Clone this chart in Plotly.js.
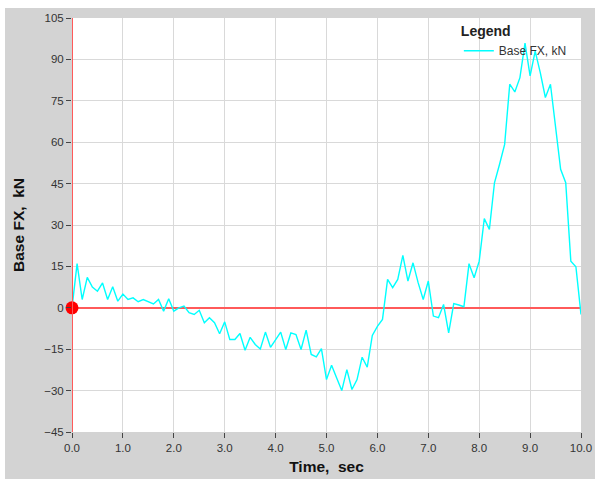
<!DOCTYPE html>
<html>
<head>
<meta charset="utf-8">
<script src="https://cdn.plot.ly/plotly-3.0.1.min.js"></script>
<style>
html,body{margin:0;padding:0;background:#ffffff;}
#chart{position:absolute;left:5px;top:8px;width:590px;height:471px;}
</style>
</head>
<body>
<div id="chart"></div>
<script>
const seriesName = "Base FX, kN";
const timeSec = [0.0,0.1,0.2,0.3,0.4,0.5,0.6,0.7,0.8,0.9,
  1.0,1.1,1.2,1.3,1.4,1.5,1.6,1.7,1.8,1.9,
  2.0,2.1,2.2,2.3,2.4,2.5,2.6,2.7,2.8,2.9,
  3.0,3.1,3.2,3.3,3.4,3.5,3.6,3.7,3.8,3.9,
  4.0,4.1,4.2,4.3,4.4,4.5,4.6,4.7,4.8,4.9,
  5.0,5.1,5.2,5.3,5.4,5.5,5.6,5.7,5.8,5.9,
  6.0,6.1,6.2,6.3,6.4,6.5,6.6,6.7,6.8,6.9,
  7.0,7.1,7.2,7.3,7.4,7.5,7.6,7.7,7.8,7.9,
  8.0,8.1,8.2,8.3,8.4,8.5,8.6,8.7,8.8,8.9,
  9.0,9.1,9.2,9.3,9.4,9.5,9.6,9.7,9.8,9.9,10.0];
const baseFX = [0,16,3,11,7.5,6,9,3,7.6,2.4,
  5,3,3.6,2.2,3,2.2,1.4,3,-1.2,3.3,
  -1.2,0,0.6,-1.8,-2.4,-0.9,-5.4,-3.6,-5.4,-9.4,
  -5.1,-11.5,-11.5,-9.3,-15.4,-10.7,-13.3,-14.9,-8.8,-14.3,
  -11.5,-8.8,-15.1,-9.1,-9.7,-15.1,-8.1,-16.9,-17.8,-14.8,
  -26,-20.8,-25.4,-30,-22.4,-29.6,-26,-17.9,-21.5,-10,
  -6.7,-4.2,10.3,7.3,10.3,19,9.7,16.3,9.1,3,
  9.7,-3,-3.6,1.2,-9.1,1.5,1,0.4,16,10.9,
  16.9,32.3,28.4,45.3,52,59.2,81,78.2,83.4,95.9,
  84,93,85.2,76.2,81,65.9,50.2,45.3,16.9,14.9,-2.4];
const originPoint = {t:[0], v:[0]};
const xTickVals = [0,1,2,3,4,5,6,7,8,9,10];
const yTickVals = [-45,-30,-15,0,15,30,45,60,75,90,105];

const traces = [
  {x: timeSec, y: baseFX, type:'scatter', mode:'lines', name: seriesName,
   line:{color:'#00ffff', width:1.4}},
  {x: originPoint.t, y: originPoint.v, type:'scatter', mode:'markers', showlegend:false,
   marker:{color:'#ff0000', size:13}, cliponaxis:false, hoverinfo:'skip'}
];

const fam = '"Liberation Sans", Arial, sans-serif';
const tickFont = {family:fam, size:11.5, color:'#333333'};
const titleFont = {family:fam, size:15.5, color:'#111111', weight:'bold'};

const layout = {
  width:590, height:471,
  paper_bgcolor:'#d3d3d3', plot_bgcolor:'#ffffff',
  margin:{l:67, r:14, t:10, b:47},
  showlegend:true,
  legend:{x:0.76, xanchor:'left', y:1.0, yanchor:'top', bgcolor:'rgba(0,0,0,0)',
    title:{text:'<b>Legend</b>', side:'top', font:{family:fam, size:14, color:'#222222'}},
    font:{family:fam, size:12, color:'#333333'}},
  xaxis:{range:[0,10], tickvals:xTickVals, tickformat:'.1f', showgrid:true, gridcolor:'#d9d9d9', gridwidth:1,
    zeroline:false, showline:false, ticks:'outside', ticklen:5, tickcolor:'#444444', tickfont:tickFont,
    title:{text:'Time,\u00a0 sec', font:titleFont, standoff:8}},
  yaxis:{range:[-45,105], tickvals:yTickVals, showgrid:true, gridcolor:'#d9d9d9', gridwidth:1,
    zeroline:true, zerolinecolor:'#ff5a5a', zerolinewidth:2, showline:false,
    ticks:'outside', ticklen:5, tickcolor:'#444444', tickfont:tickFont,
    title:{text:'Base FX,\u00a0 kN', font:titleFont, standoff:15}},
  shapes:[{type:'line', xref:'x', yref:'paper', x0:0, x1:0, y0:0, y1:1,
    line:{color:'#ff5a5a', width:2}, layer:'above'}]
};

Plotly.newPlot('chart', traces, layout, {displayModeBar:false, staticPlot:true});
</script>
</body>
</html>
